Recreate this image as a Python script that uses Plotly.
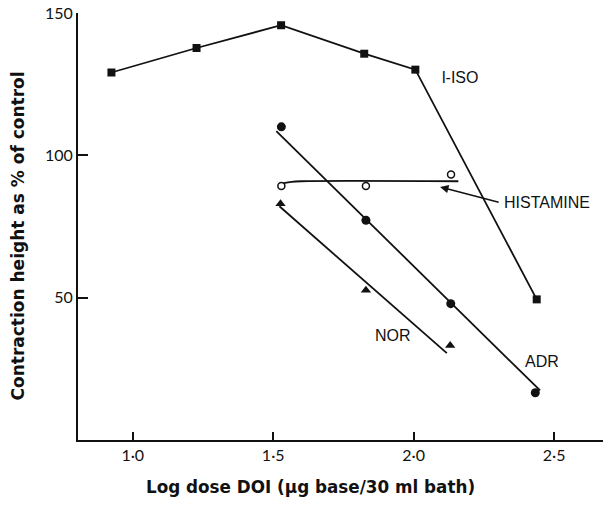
import plotly.graph_objects as go

# ---- data ----
iso_x = [0.924, 1.227, 1.528, 1.824, 2.006, 2.438]
iso_y = [129.1, 137.7, 145.7, 135.7, 130.1, 49.4]

adr_x = [1.529, 1.830, 2.132, 2.433]
adr_y = [110.0, 77.2, 47.9, 16.6]
adr_fit_x = [1.511, 2.450]
adr_fit_y = [108.5, 17.4]

nor_x = [1.526, 1.830, 2.130]
nor_y = [83.0, 52.6, 33.2]
nor_fit_x = [1.522, 2.118]
nor_fit_y = [82.1, 30.5]

his_x = [1.529, 1.830, 2.133]
his_y = [89.2, 89.2, 93.3]
his_fit_x = [1.537, 1.565, 1.600, 2.159]
his_fit_y = [90.2, 90.7, 90.9, 90.9]

x_tickvals = [1.0, 1.5, 2.0, 2.5]
x_ticktext = ["1·0", "1·5", "2·0", "2·5"]
y_tickvals = [50, 100, 150]
y_ticktext = ["50", "100", "150"]

labels = ["l-ISO", "HISTAMINE", "NOR", "ADR"]
label_x = [2.094, 2.314, 1.928, 2.456]
label_y = [127.2, 83.4, 36.8, 27.7]
label_anchor = ["left", "left", "center", "center"]

arrow_head = (2.094, 88.9)
arrow_tail = (2.308, 83.4)

x_title = "Log dose DOI (μg base/30 ml bath)"
y_title = "Contraction height as % of control"

BLACK = "#111111"
LW = 1.8

fig = go.Figure()

fig.add_trace(go.Scatter(x=iso_x, y=iso_y, mode="lines+markers",
                         line=dict(color=BLACK, width=LW),
                         marker=dict(symbol="square", size=8, color=BLACK)))
fig.add_trace(go.Scatter(x=adr_fit_x, y=adr_fit_y, mode="lines",
                         line=dict(color=BLACK, width=LW)))
fig.add_trace(go.Scatter(x=adr_x, y=adr_y, mode="markers",
                         marker=dict(symbol="circle", size=9, color=BLACK)))
fig.add_trace(go.Scatter(x=nor_fit_x, y=nor_fit_y, mode="lines",
                         line=dict(color=BLACK, width=LW)))
fig.add_trace(go.Scatter(x=nor_x, y=nor_y, mode="markers",
                         marker=dict(symbol="triangle-up", size=9, color=BLACK)))
fig.add_trace(go.Scatter(x=his_fit_x, y=his_fit_y, mode="lines",
                         line=dict(color=BLACK, width=LW, shape="spline")))
fig.add_trace(go.Scatter(x=his_x, y=his_y, mode="markers",
                         marker=dict(symbol="circle-open", size=7, color=BLACK,
                                     line=dict(width=1.5, color=BLACK))))

for t, lx, ly, anc in zip(labels, label_x, label_y, label_anchor):
    fig.add_annotation(x=lx, y=ly, xref="x", yref="y", text=t, showarrow=False,
                       xanchor=anc, yanchor="middle",
                       font=dict(family="Liberation Sans", size=16, color=BLACK))

fig.add_annotation(x=arrow_head[0], y=arrow_head[1], ax=arrow_tail[0], ay=arrow_tail[1],
                   xref="x", yref="y", axref="x", ayref="y", text="",
                   showarrow=True, arrowhead=2, arrowsize=1.2, arrowwidth=1.4,
                   arrowcolor=BLACK)

fig.add_annotation(x=0.4424, y=-0.1103, xref="paper", yref="paper", text=x_title,
                   showarrow=False, xanchor="center", yanchor="middle",
                   font=dict(family="DejaVu Sans", size=16.8, color=BLACK, weight="bold"))
fig.add_annotation(x=-0.1151, y=0.478, xref="paper", yref="paper", text=y_title,
                   showarrow=False, xanchor="center", yanchor="middle", textangle=-90,
                   font=dict(family="DejaVu Sans", size=17, color=BLACK, weight="bold"))

fig.update_xaxes(range=[0.805, 2.674], tickvals=x_tickvals, ticktext=x_ticktext,
                 showgrid=False, zeroline=False, showline=True, linecolor=BLACK,
                 linewidth=2, ticks="inside", ticklen=8, tickwidth=2, tickcolor=BLACK,
                 automargin=False,
                 tickfont=dict(family="Lato", size=16, color=BLACK))
fig.update_yaxes(range=[0, 150], tickvals=y_tickvals, ticktext=y_ticktext,
                 showgrid=False, zeroline=False, showline=True, linecolor=BLACK,
                 linewidth=2, ticks="inside", ticklen=10, tickwidth=1.5, tickcolor=BLACK,
                 ticklabeloverflow="allow", automargin=False,
                 tickfont=dict(family="Lato", size=16, color=BLACK))

fig.update_layout(width=606, height=524, showlegend=False,
                  paper_bgcolor="white", plot_bgcolor="white",
                  margin=dict(l=77.5, r=3, t=12.7, b=84.4))

# remove the default 8 px page margin so the figure fills the window exactly
fig.write_html("out.html", config={"displayModeBar": False},
               post_script="document.body.style.margin='0';")
